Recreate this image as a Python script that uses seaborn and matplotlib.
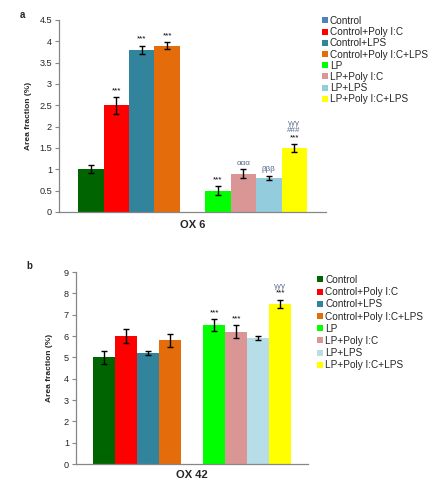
import numpy as np
import pandas as pd
import matplotlib
matplotlib.use("Agg")
import matplotlib.pyplot as plt
from matplotlib.patches import Patch
import seaborn as sns

conditions = ["Control", "Control+Poly I:C", "Control+LPS", "Control+Poly I:C+LPS",
              "LP", "LP+Poly I:C", "LP+LPS", "LP+Poly I:C+LPS"]

ox6_mean = [1.0, 2.5, 3.8, 3.9, 0.5, 0.9, 0.8, 1.5]
ox6_err = [0.09, 0.2, 0.1, 0.09, 0.1, 0.1, 0.04, 0.1]
ox6_marks = [[], ["***"], ["***"], ["***"], ["***"], ["ααα"], ["βββ"], ["***", "###", "γγγ"]]

ox42_mean = [5.0, 6.0, 5.2, 5.8, 6.5, 6.2, 5.9, 7.5]
ox42_err = [0.29, 0.31, 0.09, 0.3, 0.28, 0.3, 0.1, 0.21]
ox42_marks = [[], [], [], [], ["***"], ["***"], [], ["***", "γγγ"]]

colors_a = ["#006400", "#FF0000", "#31849B", "#E46C0A", "#00FF00", "#D99694", "#93CDDD", "#FFFF00"]
colors_b = ["#006400", "#FF0000", "#31849B", "#E46C0A", "#00FF00", "#D99694", "#B7DEE8", "#FFFF00"]
legend_a = ["#4F81BD"] + colors_a[1:]
legend_b = colors_b

sns.set_style("white")
plt.rcParams['font.family'] = ['Liberation Sans', 'DejaVu Sans']

fig = plt.figure(figsize=(4.37, 4.88), dpi=100)

order = conditions[:4] + [" "] + conditions[4:]
pos = {c: i for i, c in enumerate(order)}


def panel(rect, means, errs, marks, colors, leg_colors, ymax, ystep, xlabel, letter,
          letter_xy, leg_anchor, labelspacing, xpad, ypad):
    ax = fig.add_axes(rect)
    df = pd.DataFrame({"cond": conditions, "val": means})
    sns.barplot(data=df, x="cond", y="val", hue="cond", order=order,
                hue_order=conditions, palette=dict(zip(conditions, colors)),
                dodge=False, width=1.0, errorbar=None, legend=False,
                saturation=1, linewidth=0, ax=ax)
    xs = [pos[c] for c in conditions]
    ax.errorbar(xs, means, yerr=errs, fmt="none", ecolor="black",
                elinewidth=1.0, capsize=2.3, capthick=1.0)
    for x, m, e, mk in zip(xs, means, errs, marks):
        for k, s in enumerate(mk):
            col = "black" if s == "***" else "#55698a"
            ax.annotate(s, (x, m + e), xytext=(0, 2.0 + 5.0 * k),
                        textcoords="offset points", ha="center", va="bottom",
                        fontsize=5.8, color=col)
    n = len(order)
    ax.set_xlim(-1.25, n - 1 + 1.25)
    ax.set_ylim(0, ymax)
    ticks = np.arange(0, ymax + 1e-9, ystep)
    ax.set_yticks(ticks)
    ax.set_yticklabels([f"{v:g}" for v in ticks])
    ax.set_xticks([-1.25, n - 1 + 1.25])
    ax.set_xticklabels(["", ""])
    ax.tick_params(axis="x", length=3, width=0.8, color="#868686", direction="out", pad=0)
    ax.tick_params(axis="y", length=3, width=0.8, color="#868686", direction="out",
                   labelsize=6.6, pad=2, left=True)
    for sp in ["top", "right"]:
        ax.spines[sp].set_visible(False)
    for sp in ["left", "bottom"]:
        ax.spines[sp].set_color("#868686")
        ax.spines[sp].set_linewidth(0.9)
    ax.set_xlabel(xlabel, fontsize=8, fontweight="bold", labelpad=xpad)
    ax.set_ylabel("Area fraction (%)", fontsize=6, fontweight="bold", labelpad=ypad)
    fig.text(letter_xy[0], letter_xy[1], letter, fontsize=7, fontweight="bold",
             ha="left", va="center")
    handles = [Patch(facecolor=c, edgecolor="none") for c in leg_colors]
    fig.legend(handles, conditions, loc="upper left", bbox_to_anchor=leg_anchor,
               frameon=False, fontsize=7.2, handlelength=0.55, handleheight=0.55,
               handletextpad=0.25, labelspacing=labelspacing, borderaxespad=0,
               borderpad=0)
    return ax


panel([59 / 437, 1 - 212 / 488, 267 / 437, 192 / 488], ox6_mean, ox6_err, ox6_marks,
      colors_a, legend_a, 4.5, 0.5, "OX 6", "a", (20 / 437, 1 - 15 / 488),
      (322 / 437, 1 - 16 / 488), 0.12, 3, 5)

panel([76 / 437, 1 - 464 / 488, 232 / 437, 192 / 488], ox42_mean, ox42_err, ox42_marks,
      colors_b, legend_b, 9, 1, "OX 42", "b", (26 / 437, 1 - 266 / 488),
      (317 / 437, 1 - 275 / 488), 0.22, 1.5, 8)

fig.savefig("out.png", dpi=100)
